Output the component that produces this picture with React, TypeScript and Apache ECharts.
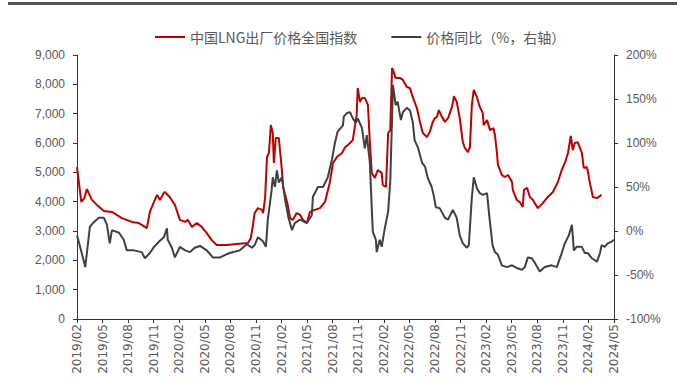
import React, { useEffect, useRef } from "react";
import * as echarts from "echarts";

const legendNames = ["中国LNG出厂价格全国指数", "价格同比（%，右轴）"];

const priceDates = [
  "2019-02-01","2019-02-15","2019-02-25","2019-03-06","2019-03-24","2019-04-11","2019-05-06","2019-06-04","2019-07-09","2019-08-14",
  "2019-09-09","2019-10-07","2019-10-18","2019-11-02","2019-11-13","2019-11-23","2019-12-07","2019-12-10","2019-12-28","2020-01-16",
  "2020-02-03","2020-02-21","2020-03-01","2020-03-16","2020-04-03","2020-04-20","2020-05-08","2020-05-26","2020-06-13","2020-07-19",
  "2020-08-24","2020-10-03","2020-10-13","2020-10-20","2020-10-27","2020-11-08","2020-11-22","2020-11-26","2020-12-03","2020-12-10",
  "2020-12-17","2020-12-24","2020-12-31","2021-01-04","2021-01-11","2021-01-22","2021-02-02","2021-02-06","2021-02-20","2021-03-01",
  "2021-03-11","2021-03-25","2021-04-06","2021-04-16","2021-04-30","2021-05-11","2021-05-29","2021-06-16","2021-07-04","2021-07-21",
  "2021-08-02","2021-08-16","2021-09-04","2021-09-14","2021-10-02","2021-10-12","2021-10-26","2021-10-30","2021-11-07","2021-11-14",
  "2021-11-24","2021-12-05","2021-12-12","2021-12-19","2021-12-30","2022-01-10","2022-01-24","2022-01-28","2022-02-08","2022-02-15",
  "2022-02-22","2022-02-28","2022-03-03","2022-03-13","2022-03-28","2022-04-08","2022-04-22","2022-05-03","2022-05-13","2022-05-28",
  "2022-06-08","2022-06-18","2022-07-03","2022-07-13","2022-07-24","2022-08-01","2022-08-08","2022-08-15","2022-08-26","2022-09-06",
  "2022-09-17","2022-10-01","2022-10-08","2022-10-18","2022-10-29","2022-11-09","2022-11-16","2022-11-27","2022-12-04","2022-12-11",
  "2022-12-18","2022-12-29","2023-01-09","2023-01-20","2023-01-23","2023-02-04","2023-02-14","2023-02-25","2023-03-02","2023-03-09",
  "2023-03-13","2023-03-27","2023-04-07","2023-04-18","2023-05-02","2023-05-05","2023-05-19","2023-05-30","2023-06-10","2023-06-14",
  "2023-06-25","2023-07-05","2023-07-16","2023-08-03","2023-08-21","2023-09-08","2023-09-26","2023-10-14","2023-10-28","2023-11-08",
  "2023-11-19","2023-11-29","2023-12-06","2023-12-13","2023-12-24","2024-01-08","2024-01-15","2024-01-26","2024-01-29","2024-02-06",
  "2024-02-16","2024-03-01","2024-03-18"
];
const priceValues = [
  5180,3990,4120,4430,4060,3890,3680,3650,3440,3310,
  3270,3100,3650,3990,4230,4060,4300,4330,4160,3890,
  3380,3310,3380,3140,3270,3140,2930,2690,2520,2520,
  2560,2590,2760,3140,3610,3780,3720,3610,4120,5520,
  5660,6610,6340,5320,6170,6170,5080,4500,3950,3440,
  3380,3610,3550,3380,3270,3650,3720,3780,3990,4640,
  5320,5520,5660,5850,6000,6100,6950,7870,7400,7530,
  7530,7300,6030,4980,4810,5080,4980,4570,4500,6340,
  6440,8560,8490,8220,8220,8150,7910,7870,7570,7190,
  6720,6340,6200,6380,6720,6850,6890,7120,6890,6720,
  6850,7230,7600,7400,6850,6030,5830,5690,5860,7300,
  7810,7570,7230,7020,6610,6780,6440,6510,6270,5690,
  5250,4910,4840,4910,4670,4400,4060,3990,3820,4400,
  4470,4160,4060,3780,3950,4160,4330,4670,5080,5320,
  5660,6240,5760,6000,6030,5660,5150,5180,5080,4640,
  4160,4120,4230
];

const yoyDates = [
  "2019-02-01","2019-02-08","2019-02-18","2019-02-28","2019-03-06","2019-03-17","2019-03-31","2019-04-18","2019-05-06","2019-05-17",
  "2019-05-27","2019-06-04","2019-06-29","2019-07-16","2019-07-27","2019-08-21","2019-09-19","2019-09-30","2019-10-18","2019-11-02",
  "2019-11-20","2019-12-07","2019-12-18","2019-12-21","2020-01-05","2020-01-16","2020-02-03","2020-02-21","2020-03-09","2020-03-26",
  "2020-04-14","2020-05-08","2020-05-30","2020-06-24","2020-07-29","2020-09-04","2020-09-29","2020-10-17","2020-10-27","2020-11-08",
  "2020-11-26","2020-12-06","2020-12-13","2020-12-27","2020-12-31","2021-01-08","2021-01-15","2021-01-22","2021-02-02","2021-02-13",
  "2021-02-23","2021-03-08","2021-03-18","2021-04-06","2021-04-30","2021-05-18","2021-05-22","2021-06-09","2021-06-27","2021-07-14",
  "2021-07-29","2021-08-09","2021-08-19","2021-09-07","2021-09-10","2021-09-21","2021-10-02","2021-10-12","2021-10-23","2021-10-30",
  "2021-11-14","2021-11-24","2021-12-01","2021-12-12","2021-12-19","2021-12-23","2022-01-03","2022-01-06","2022-01-17","2022-01-24",
  "2022-02-04","2022-02-15","2022-02-22","2022-02-28","2022-03-03","2022-03-13","2022-03-20","2022-04-01","2022-04-08","2022-04-22",
  "2022-05-03","2022-05-13","2022-05-20","2022-06-01","2022-06-15","2022-06-26","2022-07-06","2022-07-20","2022-07-27","2022-08-04",
  "2022-08-18","2022-09-06","2022-09-17","2022-10-04","2022-10-18","2022-10-29","2022-11-09","2022-11-23","2022-11-30","2022-12-11",
  "2022-12-18","2022-12-29","2023-01-09","2023-01-20","2023-02-04","2023-02-11","2023-02-22","2023-03-02","2023-03-13","2023-03-27",
  "2023-04-14","2023-05-02","2023-05-19","2023-06-07","2023-06-17","2023-06-28","2023-07-12","2023-07-23","2023-08-10","2023-08-28",
  "2023-09-22","2023-10-10","2023-10-28","2023-11-08","2023-11-22","2023-12-03","2023-12-10","2023-12-20","2024-01-08","2024-01-19",
  "2024-01-29","2024-02-13","2024-03-01","2024-03-12","2024-03-18","2024-03-29","2024-04-09","2024-04-23","2024-05-01"
];
const yoyValues = [
  -5,-14,-27,-41,-25,5,10,15,15,7,
  -14,1,-2,-10,-22,-22,-24,-31,-25,-18,
  -12,-7,3,-10,-19,-30,-18,-22,-24,-19,
  -17,-22,-30,-30,-25,-22,-15,-19,-16,-7,
  -12,-18,13,47,61,50,69,55,61,35,
  16,1,9,13,9,18,39,50,50,61,
  81,100,113,120,130,134,135,128,123,128,
  117,94,109,78,26,-1,-10,-24,-10,-18,
  3,22,56,128,166,143,147,126,135,140,
  137,124,103,95,78,73,60,50,41,27,
  26,15,13,24,15,-5,-14,-19,-16,38,
  61,49,43,41,43,18,-16,-24,-27,-39,
  -41,-39,-42,-44,-41,-30,-31,-36,-46,-41,
  -39,-41,-25,-14,-5,7,-22,-18,-18,-25,
  -25,-31,-35,-25,-16,-18,-14,-12,-10
];

const START_YEAR = 2019;
const START_MONTH = 2;

function toMonthIndex(s: string): number {
  const [y, m, d] = s.split("-").map(Number);
  const dim = new Date(y, m, 0).getDate();
  return (y - START_YEAR) * 12 + (m - START_MONTH) + (d - 1) / dim;
}

function monthLabel(v: number): string {
  const total = START_MONTH - 1 + Math.round(v);
  const y = START_YEAR + Math.floor(total / 12);
  const m = (total % 12) + 1;
  return `${y}/${m < 10 ? "0" + m : m}`;
}

export default function App() {
  const ref = useRef<HTMLDivElement>(null);
  useEffect(() => {
    if (!ref.current) return;
    const chart = echarts.init(ref.current, undefined, { renderer: "svg" });
    const labelColor = "#595959";
    const font = "'Liberation Sans', 'Noto Sans CJK SC', sans-serif";
    chart.setOption({
      animation: false,
      textStyle: { fontFamily: font },
      graphic: [
        { type: "rect", left: 8, top: 2, shape: { width: 669, height: 3 }, style: { fill: "#555555" } },
      ],
      legend: {
        data: legendNames,
        left: 150,
        top: 25,
        icon: "rect",
        itemWidth: 30,
        itemHeight: 2,
        itemGap: 34,
        textStyle: { color: labelColor, fontSize: 14, fontFamily: "'Noto Sans CJK SC', sans-serif" },
      },
      grid: { left: 77, right: 63, top: 55, bottom: 64, containLabel: false },
      xAxis: {
        type: "value",
        min: 0,
        max: 63,
        interval: 3,
        splitLine: { show: false },
        axisLine: { lineStyle: { color: "#333333", width: 1 } },
        axisTick: { show: true, length: 4, lineStyle: { color: "#333333" } },
        axisLabel: {
          rotate: 90,
          color: labelColor,
          fontSize: 12,
          fontFamily: "'DejaVu Sans', sans-serif",
          margin: 5,
          formatter: (v: number) => monthLabel(v),
        },
      },
      yAxis: [
        {
          type: "value",
          min: 0,
          max: 9000,
          interval: 1000,
          splitLine: { show: false },
          axisLine: { show: true, lineStyle: { color: "#333333" } },
          axisTick: { show: true, length: 4, lineStyle: { color: "#333333" } },
          axisLabel: {
            color: labelColor,
            fontSize: 12,
            margin: 12,
            formatter: (v: number) => v.toLocaleString("en-US"),
          },
        },
        {
          type: "value",
          min: -100,
          max: 200,
          interval: 50,
          position: "right",
          splitLine: { show: false },
          axisLine: { show: true, lineStyle: { color: "#333333" } },
          axisTick: { show: true, length: 4, lineStyle: { color: "#333333" } },
          axisLabel: {
            color: labelColor,
            fontSize: 12,
            margin: 12,
            formatter: (v: number) => `${v}%`,
          },
        },
      ],
      series: [
        {
          name: legendNames[0],
          type: "line",
          yAxisIndex: 0,
          showSymbol: false,
          symbol: "none",
          color: "#C00000",
          lineStyle: { color: "#C00000", width: 2 },
          data: priceDates.map((d, i) => [toMonthIndex(d), priceValues[i]]),
        },
        {
          name: legendNames[1],
          type: "line",
          yAxisIndex: 1,
          showSymbol: false,
          symbol: "none",
          color: "#404040",
          lineStyle: { color: "#404040", width: 2 },
          data: yoyDates.map((d, i) => [toMonthIndex(d), yoyValues[i]]),
        },
      ],
    });
    return () => chart.dispose();
  }, []);
  return <div ref={ref} style={{ position: "absolute", left: 0, top: 0, width: 677, height: 383 }} />;
}
